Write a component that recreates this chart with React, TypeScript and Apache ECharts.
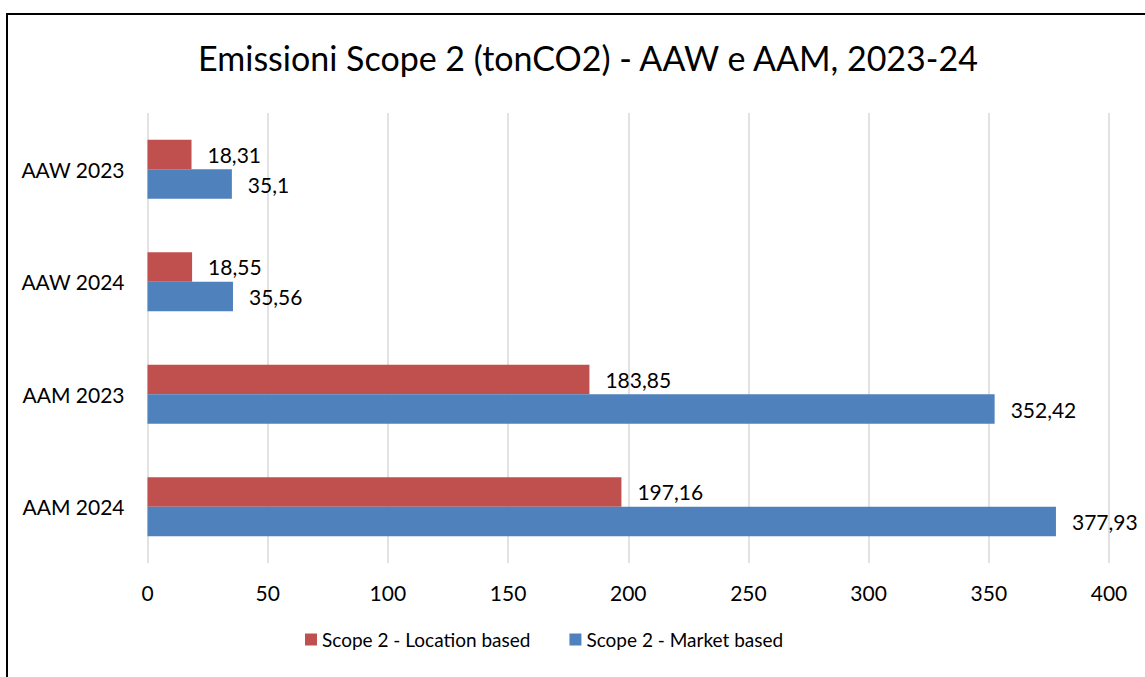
import React, { useEffect, useRef } from "react";
import * as echarts from "echarts";

const categories = ["AAW 2023", "AAW 2024", "AAM 2023", "AAM 2024"];
const locationBased = [18.31, 18.55, 183.85, 197.16];
const marketBased = [35.1, 35.56, 352.42, 377.93];
const xTicks = [0, 50, 100, 150, 200, 250, 300, 350, 400];
const seriesNames = ["Scope 2 - Location based", "Scope 2 - Market based"];
const titleText = "Emissioni Scope 2 (tonCO2) - AAW e AAM, 2023-24";

const FONT = "Lato, 'Noto Sans', sans-serif";
const fmt = (v: number) => String(v).replace(".", ",");

export default function App() {
  const ref = useRef<HTMLDivElement>(null);
  useEffect(() => {
    if (!ref.current) return;
    const chart = echarts.init(ref.current, null, { renderer: "svg" });
    const labelCfg = {
      show: true,
      position: "right" as const,
      distance: 16,
      color: "#000",
      fontFamily: FONT,
      fontSize: 21,
      formatter: (p: any) => fmt(p.value),
    };
    chart.setOption({
      animation: false,
      backgroundColor: "#fff",
      textStyle: { fontFamily: FONT },
      title: {
        text: titleText,
        left: 583,
        textAlign: "center",
        top: 35,
        textStyle: { fontFamily: FONT, fontSize: 34, fontWeight: "normal", color: "#000" },
      },
      legend: {
        data: seriesNames,
        bottom: 23,
        left: 300,
        itemWidth: 12,
        itemHeight: 12,
        itemGap: 39,
        icon: "rect",
        textStyle: { fontFamily: FONT, fontSize: 19, color: "#000" },
      },
      grid: { left: 147.5, right: 36, top: 113, bottom: 114, containLabel: false },
      xAxis: {
        type: "value",
        min: xTicks[0],
        max: xTicks[xTicks.length - 1],
        interval: xTicks[1] - xTicks[0],
        axisLine: { show: false },
        axisTick: { show: false },
        axisLabel: { color: "#000", fontFamily: FONT, fontSize: 21, margin: 19 },
        splitLine: { show: true, lineStyle: { color: "#d9d9d9", width: 1.5 } },
      },
      yAxis: {
        type: "category",
        data: categories,
        inverse: true,
        axisLine: { show: false },
        axisTick: { show: false },
        axisLabel: { color: "#000", fontFamily: FONT, fontSize: 21, margin: 23 },
      },
      series: [
        {
          name: seriesNames[0],
          type: "bar",
          data: locationBased,
          barGap: "0%",
          barCategoryGap: "47.5%",
          itemStyle: { color: "#C0504D" },
          label: labelCfg,
        },
        {
          name: seriesNames[1],
          type: "bar",
          data: marketBased,
          barGap: "0%",
          barCategoryGap: "47.5%",
          itemStyle: { color: "#4F81BD" },
          label: labelCfg,
        },
      ],
      graphic: [
        {
          type: "rect",
          shape: { x: 7, y: 14, width: 1160, height: 700 },
          style: { fill: "none", stroke: "#000", lineWidth: 2 },
          silent: true,
          z: 100,
        },
      ],
    });
    return () => chart.dispose();
  }, []);
  return (
    <div
      ref={ref}
      style={{ position: "fixed", left: 0, top: 0, width: 1145, height: 677 }}
    />
  );
}
